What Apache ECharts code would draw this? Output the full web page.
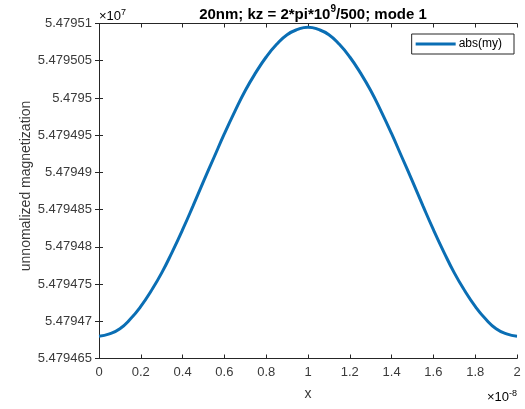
<!DOCTYPE html>
<html>
<head>
<meta charset="utf-8">
<script src="https://cdn.jsdelivr.net/npm/echarts@6/dist/echarts.min.js"></script>
<style>html,body{margin:0;padding:0;background:#fff}#c{width:525px;height:409px}</style>
</head>
<body>
<div id="c"></div>
<script>
// x values (units of 1e-8)
const xValues = [0,0.05,0.1,0.15,0.2,0.25,0.3,0.35,0.4,0.45,0.5,0.55,0.6,0.65,0.7,0.75,0.8,0.85,0.9,0.95,1.0,
                 1.05,1.1,1.15,1.2,1.25,1.3,1.35,1.4,1.45,1.5,1.55,1.6,1.65,1.7,1.75,1.8,1.85,1.9,1.95,2.0];
// abs(my) values (units of 1e7)
const myValues = [5.4794680,5.4794683,5.4794690,5.4794703,5.4794720,5.4794741,5.4794765,5.4794793,5.4794823,5.4794855,
                  5.4794888,5.4794920,5.4794952,5.4794982,5.4795010,5.4795034,5.4795055,5.4795072,5.4795085,5.4795092,5.4795095,
                  5.4795092,5.4795085,5.4795072,5.4795055,5.4795034,5.4795010,5.4794982,5.4794952,5.4794920,5.4794888,
                  5.4794855,5.4794823,5.4794793,5.4794765,5.4794741,5.4794720,5.4794703,5.4794690,5.4794683,5.4794680];
const yMin = 5.479465, yMax = 5.47951, yStep = 0.000005;
const xMin = 0, xMax = 2, xStep = 0.2;
const yName = 'unnomalized magnetization';

const fmtY = v => { let s = (+v).toFixed(6); s = s.replace(/0+$/,'').replace(/\.$/,''); return s; };
const fmtX = v => { let s = (+v).toFixed(1); s = s.replace(/\.0$/,''); return s; };

const axisColor = '#262626';
const labelColor = '#3a3a3a';
const font = 'Liberation Sans, Arial, Helvetica, sans-serif';

const chart = echarts.init(document.getElementById('c'), null, {renderer:'canvas'});
chart.setOption({
  animation:false,
  backgroundColor:'#fff',
  title:{
    text:'{t|20nm; kz = 2*pi*10}{s|9}{t|/500; mode 1}',
    left:308, top:-1, textAlign:'center',
    textStyle:{rich:{
      t:{fontFamily:font,fontWeight:'bold',fontSize:15,color:'#000',verticalAlign:'bottom',lineHeight:18},
      s:{fontFamily:font,fontWeight:'bold',fontSize:10,color:'#000',verticalAlign:'top',lineHeight:18,padding:[0,0,8,0]}
    }}
  },
  grid:{left:99, right:8, top:23.5, bottom:50.5, containLabel:false},
  legend:{
    data:['abs(my)'], right:11, top:34,
    icon:'rect', itemWidth:40, itemHeight:3, itemGap:4,
    padding:[4,12,4,4],
    borderColor:axisColor, borderWidth:1, backgroundColor:'#fff',
    textStyle:{fontFamily:font,fontSize:12,color:'#000',padding:[0,0,0,-2]}
  },
  xAxis:[{
    type:'value', min:xMin, max:xMax, interval:xStep,
    name:'x', nameLocation:'middle', nameGap:29,
    nameTextStyle:{fontFamily:font,fontSize:14,color:labelColor},
    axisLine:{show:true,lineStyle:{color:axisColor,width:1}},
    axisTick:{show:true,inside:true,length:4,lineStyle:{color:axisColor}},
    axisLabel:{formatter:fmtX,fontFamily:font,fontSize:13,color:labelColor,margin:7,showMinLabel:true,showMaxLabel:true},
    splitLine:{show:false}
  },{
    type:'value', position:'top', min:xMin, max:xMax, interval:xStep,
    axisLine:{show:true,lineStyle:{color:axisColor,width:1}},
    axisTick:{show:true,inside:true,length:4,lineStyle:{color:axisColor}},
    axisLabel:{show:false}, splitLine:{show:false}
  }],
  yAxis:[{
    type:'value', min:yMin, max:yMax, interval:yStep,
    axisLine:{show:true,lineStyle:{color:axisColor,width:1}},
    axisTick:{show:true,inside:true,length:4,lineStyle:{color:axisColor}},
    axisLabel:{formatter:fmtY,fontFamily:font,fontSize:13,color:labelColor,margin:7,showMinLabel:true,showMaxLabel:true},
    splitLine:{show:false}
  },{
    type:'value', position:'right', min:yMin, max:yMax, interval:yStep,
    axisLine:{show:true,lineStyle:{color:axisColor,width:1}},
    axisTick:{show:true,inside:true,length:4,lineStyle:{color:axisColor}},
    axisLabel:{show:false}, splitLine:{show:false}
  }],
  graphic:[
    {type:'text', x:26, y:186, rotation:Math.PI/2, style:{
      text:yName, fontFamily:font, fontSize:14, fill:labelColor, align:'center', verticalAlign:'middle'
    }},
    {type:'text', left:99, top:8, style:{
      text:'{a|×10}{b|7}', rich:{
        a:{fontFamily:font,fontSize:13,color:labelColor,verticalAlign:'bottom',lineHeight:15},
        b:{fontFamily:font,fontSize:9,color:labelColor,verticalAlign:'top',lineHeight:15,padding:[0,0,7,0]}
      }}},
    {type:'text', right:8, top:389, style:{
      text:'{a|×10}{b|-8}', rich:{
        a:{fontFamily:font,fontSize:13,color:labelColor,verticalAlign:'bottom',lineHeight:15},
        b:{fontFamily:font,fontSize:9,color:labelColor,verticalAlign:'top',lineHeight:15,padding:[0,0,7,0]}
      }}}
  ],
  series:[{
    name:'abs(my)', type:'line', xAxisIndex:0, yAxisIndex:0,
    data:xValues.map((x,i)=>[x,myValues[i]]),
    smooth:true, showSymbol:false,
    lineStyle:{color:'#0a6eb4', width:3},
    itemStyle:{color:'#0a6eb4'}
  }]
});
</script>
</body>
</html>
